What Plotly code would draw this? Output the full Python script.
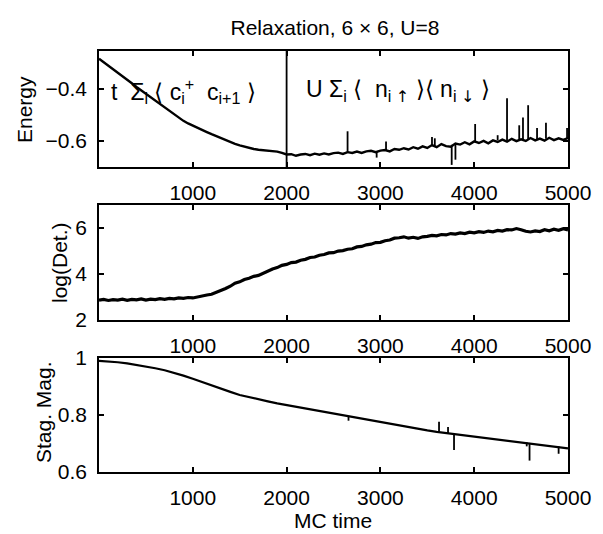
import plotly.graph_objects as go

# ---------------- data ----------------
E_t = list(range(0, 5001, 50))
E_v = [-0.285, -0.298, -0.312, -0.325, -0.339, -0.352, -0.366, -0.379, -0.393, -0.406,
       -0.420, -0.433, -0.447, -0.460, -0.474, -0.487, -0.500, -0.512, -0.523, -0.533,
       -0.542, -0.550, -0.558, -0.566, -0.574, -0.582, -0.590, -0.598, -0.605, -0.611,
       -0.617, -0.622, -0.627, -0.631, -0.634, -0.636, -0.637, -0.638, -0.641, -0.646,
       -0.652,
       -0.651, -0.657, -0.652, -0.650, -0.655, -0.649, -0.653, -0.648, -0.652, -0.647,
       -0.645, -0.650, -0.643, -0.646, -0.641, -0.646, -0.640, -0.638, -0.643, -0.637,
       -0.635, -0.640, -0.631, -0.634, -0.628, -0.633, -0.624, -0.630, -0.621, -0.627,
       -0.616, -0.624, -0.612, -0.620, -0.622, -0.610, -0.614, -0.605, -0.613, -0.602,
       -0.608, -0.600, -0.609, -0.598, -0.604, -0.595, -0.603, -0.592, -0.601, -0.594,
       -0.600, -0.589, -0.598, -0.591, -0.599, -0.588, -0.597, -0.590, -0.596, -0.589]

E_spike_t = [2650, 2960, 3060, 3550, 3580, 3760, 3800, 4010, 4250, 4350, 4480, 4520, 4575, 4670, 4765, 4990]
E_spike_lo = [-0.645, -0.664, -0.636, -0.620, -0.620, -0.692, -0.672, -0.606, -0.598, -0.598,
              -0.596, -0.596, -0.595, -0.594, -0.592, -0.590]
E_spike_hi = [-0.563, -0.640, -0.602, -0.585, -0.590, -0.615, -0.612, -0.535, -0.578, -0.436,
              -0.540, -0.510, -0.463, -0.550, -0.530, -0.550]

D_t = list(range(0, 5001, 50))
D_v = [2.86, 2.90, 2.85, 2.89, 2.87, 2.91, 2.86, 2.90, 2.88, 2.92,
       2.87, 2.91, 2.89, 2.93, 2.90, 2.94, 2.92, 2.96, 2.94, 2.98, 2.96,
       3.01, 3.03, 3.09, 3.12, 3.20, 3.26, 3.37, 3.47, 3.60, 3.66,
       3.76, 3.82, 3.90, 3.94, 4.04, 4.12, 4.22, 4.28, 4.38, 4.42,
       4.50, 4.52, 4.60, 4.64, 4.72, 4.74, 4.82, 4.85, 4.92, 4.93,
       5.00, 5.02, 5.08, 5.10, 5.18, 5.20, 5.27, 5.30, 5.37, 5.38,
       5.45, 5.48, 5.56, 5.58, 5.62, 5.56, 5.60, 5.55, 5.62, 5.64,
       5.68, 5.66, 5.72, 5.70, 5.76, 5.74, 5.79, 5.76, 5.82, 5.79,
       5.84, 5.81, 5.87, 5.84, 5.90, 5.87, 5.93, 5.92, 5.98, 5.93,
       5.86, 5.83, 5.88, 5.85, 5.93, 5.88, 5.95, 5.90, 5.97, 5.92]

M_t = list(range(0, 5001, 100))
M_v = [0.990, 0.988, 0.985, 0.981, 0.976, 0.970, 0.964, 0.957, 0.948, 0.938, 0.927,
       0.915, 0.903, 0.892, 0.881, 0.870, 0.862, 0.855, 0.848, 0.841, 0.835,
       0.829, 0.822, 0.816, 0.810, 0.804, 0.798, 0.793, 0.788, 0.781, 0.774,
       0.768, 0.762, 0.756, 0.751, 0.746, 0.741, 0.737, 0.733, 0.728, 0.723,
       0.719, 0.715, 0.711, 0.708, 0.705, 0.701, 0.697, 0.693, 0.688, 0.683]

M_spike_t = [2660, 3625, 3721, 3785, 4560, 4590, 4900]
M_spike_lo = [0.780, 0.741, 0.737, 0.677, 0.690, 0.640, 0.664]
M_spike_hi = [0.796, 0.776, 0.758, 0.735, 0.704, 0.702, 0.690]

x_ticks = [1000, 2000, 3000, 4000, 5000]
x_tick_labels = ["1000", "2000", "3000", "4000", "5000"]
E_ticks = [-0.6, -0.4]
E_tick_labels = ["\u22120.6", "\u22120.4"]
D_ticks = [2, 4, 6]
D_tick_labels = ["2", "4", "6"]
M_ticks = [0.6, 0.8, 1.0]
M_tick_labels = ["0.6", "0.8", "1"]


def segments(ts, lo, hi):
    xs, ys = [], []
    for t, a, b in zip(ts, lo, hi):
        xs += [t, t, None]
        ys += [a, b, None]
    return xs, ys


FONT = "Liberation Sans, Arial, Helvetica, sans-serif"
fig = go.Figure()

fig.add_trace(go.Scatter(x=E_t, y=E_v, mode="lines", line=dict(color="black", width=2.4),
                         xaxis="x", yaxis="y", showlegend=False))
sx, sy = segments(E_spike_t, E_spike_lo, E_spike_hi)
fig.add_trace(go.Scatter(x=sx, y=sy, mode="lines", line=dict(color="black", width=1.8),
                         xaxis="x", yaxis="y", showlegend=False))
fig.add_trace(go.Scatter(x=D_t, y=D_v, mode="lines", line=dict(color="black", width=3.2),
                         xaxis="x2", yaxis="y2", showlegend=False))
fig.add_trace(go.Scatter(x=M_t, y=M_v, mode="lines", line=dict(color="black", width=2.2),
                         xaxis="x3", yaxis="y3", showlegend=False))
sx, sy = segments(M_spike_t, M_spike_lo, M_spike_hi)
fig.add_trace(go.Scatter(x=sx, y=sy, mode="lines", line=dict(color="black", width=1.8),
                         xaxis="x3", yaxis="y3", showlegend=False))

axis_common = dict(showline=True, linecolor="black", linewidth=1.5, mirror="ticks",
                   ticks="inside", ticklen=5, tickwidth=1.5, tickcolor="black",
                   showgrid=False, zeroline=False,
                   tickfont=dict(family=FONT, size=21, color="black"))

xcommon = dict(axis_common, range=[0, 5000], tickvals=x_ticks, ticktext=x_tick_labels,
               ticklabelstandoff=6)

dom1 = [0.7245, 1.0]
dom2 = [0.361, 0.634]
dom3 = [0.0, 0.2708]

fig.update_layout(
    width=603, height=534,
    margin=dict(l=99, r=35, t=51, b=62),
    paper_bgcolor="white", plot_bgcolor="white",
    font=dict(family=FONT, size=21, color="black"),
    xaxis=dict(xcommon, anchor="y"),
    yaxis=dict(axis_common, domain=dom1, range=[-0.7, -0.255], tickvals=E_ticks,
               ticktext=E_tick_labels, anchor="x", ticklabelstandoff=6),
    xaxis2=dict(xcommon, anchor="y2"),
    yaxis2=dict(axis_common, domain=dom2, range=[2, 7], tickvals=D_ticks,
                ticktext=D_tick_labels, anchor="x2", ticklabelstandoff=6),
    xaxis3=dict(xcommon, anchor="y3"),
    yaxis3=dict(axis_common, domain=dom3, range=[0.6, 1.0], tickvals=M_ticks,
                ticktext=M_tick_labels, anchor="x3", ticklabelstandoff=6),
    title=dict(text="Relaxation, 6 \u00d7 6, U=8", x=(335 / 603), xanchor="center",
               y=1 - 28 / 534, yanchor="middle", font=dict(family=FONT, size=21, color="black")),
)

fig.add_shape(type="line", xref="x", yref="y domain", x0=2000, x1=2000, y0=0, y1=1,
              line=dict(color="black", width=1.8))

ann_font = dict(family=FONT, size=21, color="black")
formula_font = dict(family=FONT, size=23, color="black")
UP = "<span style='font-family:DejaVu Sans;color:black'>\u2191</span>"
DOWN = "<span style='font-family:DejaVu Sans;color:black'>\u2193</span>"
fig.add_annotation(text="t  \u03a3<sub>i</sub> \u27e8 c<sub>i</sub><sup>+</sup>  c<sub>i+1</sub> \u27e9",
                   xref="x", yref="y", x=110, y=-0.41, xanchor="left", yanchor="middle",
                   showarrow=False, font=formula_font)
fig.add_annotation(text="U \u03a3<sub>i</sub> \u27e8  n<sub>i " + UP + "</sub> \u27e9\u27e8 n<sub>i " + DOWN + "</sub> \u27e9",
                   xref="x", yref="y", x=2190, y=-0.41, xanchor="left", yanchor="middle",
                   showarrow=False, font=formula_font)

# axis titles
def px_x(px):
    return (px - 99) / 469.0

def px_y(py):
    return (472 - py) / 421.0

fig.add_annotation(text="Energy", xref="paper", yref="paper", x=px_x(24), y=px_y(110),
                   textangle=-90, showarrow=False, xanchor="center", yanchor="middle", font=ann_font)
fig.add_annotation(text="log(Det.)", xref="paper", yref="paper", x=px_x(59), y=px_y(263),
                   textangle=-90, showarrow=False, xanchor="center", yanchor="middle", font=ann_font)
fig.add_annotation(text="Stag. Mag.", xref="paper", yref="paper", x=px_x(43), y=px_y(412),
                   textangle=-90, showarrow=False, xanchor="center", yanchor="middle", font=ann_font)
fig.add_annotation(text="MC time", xref="paper", yref="paper", x=px_x(333), y=px_y(520),
                   showarrow=False, xanchor="center", yanchor="middle", font=ann_font)

fig.write_html("out.html", config={"displayModeBar": False},
               post_script="document.body.style.margin='0';document.body.style.overflow='hidden';")
